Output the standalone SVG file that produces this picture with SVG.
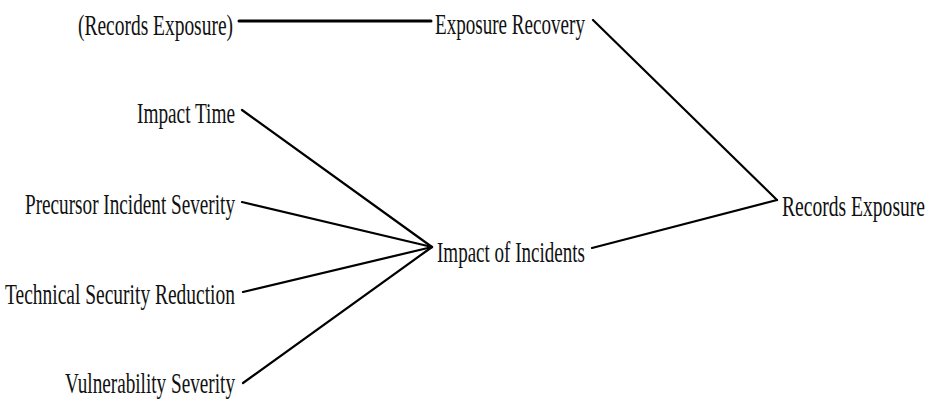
<svg xmlns="http://www.w3.org/2000/svg" width="929" height="404" viewBox="0 0 929 404">
<style>
text{font-family:"Liberation Serif","Times New Roman",serif;font-size:29px;fill:#111;}
.e{text-anchor:end;}
.s{text-anchor:start;}
.c line{stroke:#000;stroke-width:2.2;stroke-linecap:round;}
</style>
<rect width="929" height="404" fill="#fff"/>
<g id="connectors" class="c">
<line x1="239" y1="21" x2="431" y2="21" style="stroke-width:3"/>
<line x1="593" y1="20" x2="777" y2="200"/>
<line x1="592" y1="248" x2="777" y2="200"/>
<line x1="242" y1="110" x2="432" y2="247"/>
<line x1="242" y1="202" x2="432" y2="247"/>
<line x1="243" y1="292" x2="432" y2="247"/>
<line x1="243" y1="383" x2="432" y2="247"/>
</g>
<g id="n-records-exposure-shadow"><text class="s" x="78" y="35" textLength="155" lengthAdjust="spacingAndGlyphs">(Records Exposure)</text></g>
<g id="n-exposure-recovery"><text class="s" x="435" y="34" textLength="150" lengthAdjust="spacingAndGlyphs">Exposure Recovery</text></g>
<g id="n-impact-time"><text class="s" x="137" y="123" textLength="98" lengthAdjust="spacingAndGlyphs">Impact Time</text></g>
<g id="n-precursor"><text class="s" x="25" y="214" textLength="210" lengthAdjust="spacingAndGlyphs">Precursor Incident Severity</text></g>
<g id="n-technical"><text class="s" x="5" y="304" textLength="230" lengthAdjust="spacingAndGlyphs">Technical Security Reduction</text></g>
<g id="n-vulnerability"><text class="s" x="65" y="393" textLength="170" lengthAdjust="spacingAndGlyphs">Vulnerability Severity</text></g>
<g id="n-impact-of-incidents"><text class="s" x="437" y="262" textLength="148" lengthAdjust="spacingAndGlyphs">Impact of Incidents</text></g>
<g id="n-records-exposure"><text class="s" x="782" y="216" textLength="143" lengthAdjust="spacingAndGlyphs">Records Exposure</text></g>
</svg>
